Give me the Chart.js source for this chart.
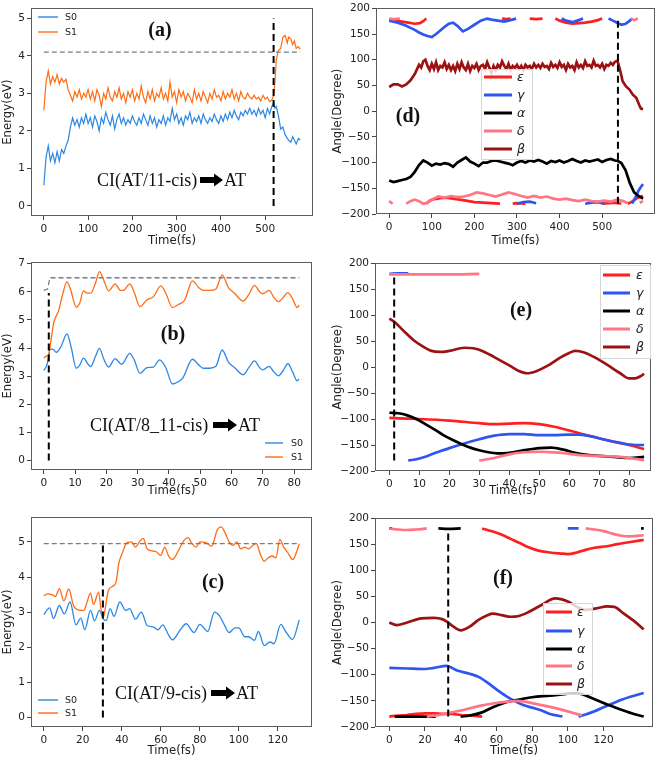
<!DOCTYPE html>
<html><head><meta charset="utf-8">
<script src="https://cdn.jsdelivr.net/npm/chart.js@4/dist/chart.umd.min.js"></script>
<style>
body{margin:0;background:#fff;width:660px;height:761px;position:relative;overflow:hidden}
canvas{position:absolute}
</style></head><body>
<canvas id="ca"></canvas><canvas id="cb"></canvas><canvas id="cc"></canvas>
<canvas id="cd"></canvas><canvas id="ce"></canvas><canvas id="cf"></canvas>
<script>
// ---------------- DATA ----------------
// Panel (a): energies
const a_time = [0,5,10,15,20,25,30,35,40,45,50,55,60,65,70,75,80,85,90,95,100,105,110,115,120,125,130,135,140,145,150,155,160,165,170,175,180,185,190,195,200,205,210,215,220,225,230,235,240,245,250,255,260,265,270,275,280,285,290,295,300,305,310,315,320,325,330,335,340,345,350,355,360,365,370,375,380,385,390,395,400,405,410,415,420,425,430,435,440,445,450,455,460,465,470,475,480,485,490,495,500,505,510,515,519,522,525,530,535,540,545,550,553,558,562,566,570,575,579];
const a_s0 = [0.55,1.3,1.6,1.2,1.4,1.15,1.45,1.2,1.5,1.4,1.6,1.75,2.1,2.35,2.15,2.3,2.1,2.35,2.2,2.45,2.2,2.35,2.1,2.4,2.25,2.0,2.35,2.2,2.5,2.3,2.15,2.4,2.05,2.3,2.45,2.2,2.35,2.15,2.3,2.2,2.4,2.25,2.15,2.35,2.2,2.45,2.3,2.15,2.4,2.2,2.35,2.1,2.3,2.2,2.4,2.15,2.35,2.25,2.6,2.3,2.45,2.2,2.35,2.15,2.4,2.3,2.5,2.2,2.35,2.25,2.4,2.2,2.45,2.3,2.2,2.35,2.25,2.45,2.3,2.2,2.4,2.25,2.45,2.3,2.5,2.35,2.55,2.4,2.3,2.5,2.4,2.55,2.45,2.6,2.45,2.55,2.4,2.6,2.45,2.55,2.35,2.6,2.45,2.65,2.75,2.6,2.65,2.4,2.05,2.1,1.9,1.8,1.75,1.7,1.85,1.75,1.65,1.8,1.75];
const a_s1 = [2.55,3.3,3.6,3.25,3.45,3.3,3.5,3.25,3.4,3.3,3.38,3.1,2.95,2.8,3.05,2.9,3.1,2.85,3.0,2.9,3.1,2.85,3.05,2.8,3.1,2.95,2.65,3.0,2.85,3.15,2.9,2.8,3.05,2.9,3.15,2.85,3.0,2.75,3.05,2.9,3.1,2.8,3.0,2.85,3.2,2.9,2.75,3.05,2.85,3.1,2.8,3.0,2.9,3.15,2.85,3.0,2.8,3.3,2.9,3.05,2.75,3.1,2.9,3.05,2.8,3.0,2.9,2.75,3.1,2.85,3.0,2.8,3.05,2.9,2.75,3.0,2.85,3.1,2.9,2.95,2.8,3.05,2.85,3.0,2.9,3.1,2.85,3.0,2.8,3.05,2.9,2.85,3.0,2.9,2.85,2.95,2.85,2.9,2.8,2.95,2.85,2.9,2.78,2.82,2.95,3.3,3.9,4.15,4.2,4.5,4.55,4.35,4.5,4.45,4.3,4.4,4.2,4.25,4.18];
const a_ref = [[0,4.1],[579,4.1]];
const a_hop = [[519,0],[519,5]];

// Panel (b)
const b_s0 = [[0,3.2],[1,3.4],[2.1,3.96],[3,3.95],[4,3.85],[5.5,4.05],[7.4,4.5],[8.8,4.0],[10.4,3.28],[11.5,3.4],[12.7,3.64],[14,3.45],[15,3.34],[16.5,3.7],[17.8,3.99],[19.2,3.6],[20.7,3.32],[22.8,3.62],[24.9,3.42],[27.5,3.81],[29,3.55],[30.7,3.1],[33,3.3],[35,3.32],[37,3.58],[39,3.3],[41.1,2.72],[43,2.8],[44.5,2.95],[47.5,3.6],[49.5,3.4],[51,3.28],[53,3.28],[55,3.35],[57,3.93],[59,3.5],[61,3.3],[63.7,3.05],[65.5,3.3],[67.3,3.54],[69,3.3],[70,3.22],[72,3.35],[73.5,3.15],[75,3.01],[76.5,3.2],[78,3.44],[79.5,3.15],[81,2.83],[81.6,2.9]];
const b_s1 = [[0,3.64],[1,3.72],[1.6,3.78],[2.2,4.2],[3.2,4.9],[4.8,5.35],[6,5.9],[7.4,6.35],[8.5,6.1],[10.4,5.45],[11.5,5.6],[12.7,6.03],[13.8,5.95],[15,5.95],[16.5,6.3],[17.8,6.72],[19.2,6.4],[20.7,6.03],[22.8,6.28],[24.5,6.05],[25.4,6.05],[27.5,6.28],[29,5.95],[30.7,5.47],[33,5.72],[35,5.82],[37.4,6.21],[39,5.95],[41.1,5.44],[43,5.55],[45,5.7],[47.5,6.39],[49.5,6.15],[51,6.05],[53,6.05],[55,6.1],[57,6.6],[59,6.15],[61,5.94],[63.7,5.67],[65.5,5.9],[67.3,6.23],[69,6.0],[70,5.93],[72,6.05],[73.5,5.8],[75,5.65],[76.5,5.8],[78,5.97],[79.5,5.75],[81,5.44],[81.6,5.52]];
const b_ref = [[0,6.05],[1.2,6.1],[2,6.5],[81.6,6.5]];
const b_hop = [[1.6,0],[1.6,5.96]];

// Panel (c)
const c_s0 = [[0,2.93],[3,3.12],[5,2.82],[8,3.19],[10.5,2.95],[13.5,3.29],[16.5,2.64],[19,2.83],[21,2.5],[24,3.05],[26,2.75],[28.5,3.05],[30.5,2.8],[32,2.76],[34,3.1],[36,2.88],[39,3.29],[42,3.05],[44,3.1],[47,2.8],[50,3.0],[53,2.62],[56,2.58],[58.5,2.5],[61,2.64],[63.5,2.4],[66,2.21],[70,2.5],[73,2.67],[77,2.42],[80,2.65],[84,2.45],[87.5,3.0],[90,2.9],[92,2.7],[95,2.42],[98,2.55],[100,2.55],[103,2.3],[105,2.3],[108,2.2],[110,2.45],[113,2.05],[116,2.15],[118,2.1],[121.5,2.65],[124,2.45],[127.5,2.22],[131,2.78]];
const c_s1 = [[0,3.47],[2,3.52],[4,3.5],[6,3.45],[8,3.67],[10.3,3.32],[12.8,3.66],[15.3,3.18],[17.9,3.06],[20.5,3.05],[22,3.25],[23.9,3.55],[25.5,3.22],[28.1,3.57],[29.3,3.1],[30.5,2.85],[31.5,3.1],[33,3.6],[35.4,3.74],[37,3.85],[38.5,4.4],[40.5,4.72],[42.6,4.98],[45,5.0],[47,4.85],[49,5.0],[51,5.1],[53,4.8],[55,4.75],[57.6,4.72],[60,4.62],[62,4.85],[64,4.6],[66,4.5],[69,4.75],[72,5.05],[74,5.12],[76,4.95],[78,4.85],[80,5.0],[83,4.98],[86,4.88],[89,5.35],[91,5.43],[93,5.25],[95,5.0],[97,4.9],[99,5.0],[101,4.8],[103,4.85],[105,4.8],[107,4.9],[109,4.95],[111,4.65],[113,4.45],[115,4.55],[117,4.6],[119,4.55],[121,5.07],[123,4.85],[125,4.7],[127.7,4.5],[129.5,4.7],[131,4.95]];
const c_ref = [[0,4.95],[131,4.95]];
const c_hop = [[30.3,0],[30.3,4.95]];

// Panel (d): angles
const d_eps = [[0,177],[15,176],[30,174],[45,172],[60,170],[72,171],[80,175],[87,180],[87,null],[87,-180],[95,-174],[105,-171],[120,-169],[135,-168],[150,-170],[165,-172],[180,-174],[200,-177],[220,-178],[240,-179],[260,-180],[260,null],[265,180],[275,179],[285,180],[285,null],[290,-180],[300,-179],[320,-180],[320,null],[330,180],[345,179],[360,180],[360,null],[390,180],[400,176],[415,172],[430,170],[445,171],[460,172],[475,174],[490,177],[500,180],[500,null],[500,-180],[515,-179],[530,-178],[545,-180],[545,null],[560,-180],[570,-176],[580,-170],[590,-166],[596,-165]];
const d_gam = [[0,176],[10,174],[20,172],[30,169],[40,166],[50,162],[60,158],[70,153],[80,149],[90,146],[100,144],[110,150],[120,157],[130,164],[140,170],[150,172],[160,166],[173,155],[185,160],[200,168],[215,176],[230,180],[240,178],[255,176],[270,174],[285,177],[298,180],[298,null],[300,-180],[315,-177],[330,-176],[345,-179],[345,null],[405,180],[415,176],[430,173],[445,177],[455,180],[455,null],[460,-180],[475,-178],[490,-177],[505,-180],[505,null],[515,180],[525,176],[535,172],[545,168],[555,170],[565,176],[570,180],[570,null],[570,-180],[578,-168],[585,-155],[592,-146],[596,-142]];
const d_alp = [[0,-135],[10,-138],[20,-136],[30,-134],[40,-132],[50,-128],[60,-118],[70,-105],[80,-96],[90,-100],[100,-106],[110,-102],[120,-104],[130,-101],[140,-103],[150,-108],[160,-100],[170,-95],[180,-90],[190,-98],[200,-102],[210,-107],[220,-100],[230,-100],[240,-97],[250,-96],[260,-98],[270,-100],[280,-102],[290,-105],[300,-100],[310,-97],[320,-100],[330,-96],[340,-98],[350,-95],[360,-98],[370,-102],[380,-97],[390,-99],[400,-96],[410,-100],[420,-97],[430,-93],[440,-97],[450,-100],[460,-96],[470,-98],[480,-96],[490,-94],[500,-99],[510,-95],[520,-93],[530,-96],[537,-97],[545,-101],[555,-115],[565,-140],[575,-158],[585,-165],[596,-170]];
const d_del = [[0,180],[10,179],[25,180],[25,null],[0,-175],[8,-180],[8,null],[40,-180],[50,-175],[60,-172],[70,-175],[80,-180],[90,-178],[100,-172],[115,-166],[130,-168],[145,-165],[160,-167],[175,-166],[190,-163],[205,-158],[220,-160],[235,-163],[250,-166],[265,-162],[280,-158],[295,-161],[310,-165],[325,-168],[340,-165],[355,-168],[370,-166],[385,-170],[400,-172],[415,-170],[430,-173],[445,-175],[460,-172],[475,-175],[490,-176],[505,-174],[520,-176],[535,-172],[550,-175],[560,-179],[560,null],[568,180],[575,177],[584,180],[584,null],[588,-178],[596,-175]];
const d_bet = [[0,47],[10,52],[20,52],[30,48],[40,52],[50,60],[60,72],[70,90],[75,85],[80,97],[85,100],[90,88],[95,80],[100,92],[105,82],[110,95],[115,80],[120,88],[125,85],[130,95],[135,82],[140,90],[145,80],[150,88],[155,78],[160,92],[165,82],[170,95],[175,85],[180,80],[185,92],[190,78],[195,88],[200,84],[205,92],[210,80],[215,88],[220,90],[225,82],[230,95],[235,85],[240,75],[245,88],[250,80],[255,90],[260,85],[265,97],[270,88],[275,82],[280,92],[285,80],[290,88],[295,84],[300,90],[305,82],[310,88],[315,80],[320,90],[325,85],[330,88],[335,82],[340,92],[345,85],[350,90],[355,84],[360,92],[365,86],[370,88],[375,82],[380,94],[385,86],[390,90],[395,84],[400,95],[405,86],[410,90],[415,80],[420,92],[425,85],[430,88],[435,80],[440,95],[445,85],[450,90],[455,84],[460,97],[465,88],[470,90],[475,85],[480,98],[485,88],[490,90],[495,85],[500,92],[505,82],[510,90],[515,88],[520,94],[525,90],[530,96],[536,98],[542,80],[548,58],[556,48],[564,42],[572,32],[580,26],[587,12],[591,5],[596,4]];
const d_hop = [[537,-180],[537,176]];

// Panel (e)
const e_eps = [[0,-98],[10,-100],[20,-103],[30,-108],[35,-110],[40,-109],[45,-108],[50,-110],[55,-115],[60,-122],[65,-130],[70,-137],[75,-144],[80,-150],[85,-158]];
const e_gam = [[0,179],[3,180],[6.3,180],[6.3,null],[6.3,-180],[10,-176],[15,-166],[20,-156],[25,-147],[30,-139],[35,-132],[40,-129],[45,-129],[50,-131],[55,-131],[60,-130],[63,-130],[67,-133],[72,-140],[77,-146],[82,-150],[85,-150]];
const e_alp = [[0,-88],[3,-89],[6,-93],[9,-100],[12,-110],[15,-120],[18,-131],[21,-140],[24,-148],[27,-155],[30,-160],[33,-164],[36,-166],[40,-165],[45,-160],[50,-156],[54,-155],[58,-159],[62,-165],[66,-169],[70,-171],[75,-173],[80,-175],[85,-173]];
const e_del = [[0,178],[10,178],[20,178],[30,179],[30,null],[30,-180],[35,-175],[40,-168],[45,-164],[50,-163],[55,-164],[60,-167],[65,-170],[70,-171],[75,-172],[80,-175],[85,-179]];
const e_bet = [[0,93],[2,85],[5,68],[8,52],[11,40],[14,31],[17,29],[20,31],[25,37],[28,36],[31,31],[35,19],[40,3],[43,-7],[46,-12],[49,-8],[53,3],[57,18],[60,27],[62,31],[65,28],[69,17],[73,3],[77,-12],[80,-22],[82,-22],[84,-17],[85,-13]];
const e_hop = [[1.6,-180],[1.6,180]];

// Panel (f)
const f_eps = [[0,-180],[5,-178],[10,-177],[15,-175],[20,-174],[25,-174],[30,-175],[35,-175],[40,-177],[45,-178],[52,-180],[52,null],[52,180],[58,174],[63,168],[68,160],[73,152],[78,144],[83,138],[90,134],[96,132],[100,131],[105,134],[110,139],[115,143],[122,146],[128,150],[135,154],[142.5,158]];
const f_gam = [[0,-87],[10,-88],[20,-89],[25,-87],[32,-83],[38,-92],[45,-98],[50,-104],[55,-115],[60,-128],[65,-140],[70,-150],[75,-158],[80,-163],[85,-168],[90,-175],[97,-180],[97,null],[100,180],[106,180],[106,null],[106,-180],[110,-176],[115,-170],[120,-162],[125,-155],[130,-148],[135,-142],[142.5,-135]];
const f_alp = [[0,180],[1.5,180],[1.5,null],[3,-180],[15,-180],[26,-180],[26,null],[27.5,180],[33,179],[40,180],[40,null],[40,-180],[45,-178],[52,-172],[58,-162],[65,-153],[72,-148],[80,-143],[90,-140],[98,-137],[104,-135],[108,-137],[115,-147],[122,-157],[130,-167],[137,-175],[142.5,-180],[142.5,null],[141,180],[142.5,180]];
const f_del = [[0,180],[5,178],[10,177],[15,178],[21,180],[21,null],[21,-180],[28,-177],[35,-172],[42,-167],[50,-160],[58,-155],[65,-152],[72,-150],[78,-153],[85,-158],[92,-163],[100,-170],[108,-178],[108,null],[110,180],[115,178],[120,175],[125,170],[130,166],[135,165],[142.5,167]];
const f_bet = [[0,0],[4,-5],[10,0],[18,8],[25,9],[30,6],[32,2],[36,-8],[40,-15],[45,-8],[50,5],[55,14],[58,17],[63,14],[68,11],[72,12],[78,20],[85,33],[93,46],[100,40],[105,30],[110,24],[116,27],[122,31],[126,30],[131,18],[137,3],[142.5,-13]];
const f_hop = [[33,-180],[33,180]];

// tick labels
const ticksA_x = [0,100,200,300,400,500];
const ticksB_x = [0,10,20,30,40,50,60,70,80];
const ticksC_x = [0,20,40,60,80,100,120];
const ticksE_y = [0,1,2,3,4,5];
const ticksB_y = [0,1,2,3,4,5,6,7];
const ticksAng_y = [-200,-150,-100,-50,0,50,100,150,200];

// ---------------- HELPERS ----------------
const FONT = 'DejaVu Sans';
const COL = {s0:'#2b88e3', s1:'#ff6c12', eps:'#ff1f1f', gam:'#2f55f0', alp:'#000000', del:'#ff7585', bet:'#9c1212', ref:'#6f7f88'};
const fmt = v => v < 0 ? '\u2212' + Math.abs(v) : String(v);
const pts = arr => arr.map(p => ({x:p[0], y:p[1]}));
const zipT = (t, v) => t.map((x,i) => ({x:x, y:v[i]}));

function lineDs(label, data, color, w, opts){
  return Object.assign({label, data, borderColor:color, backgroundColor:color, borderWidth:w, pointRadius:0, fill:false, tension:0, spanGaps:false}, opts||{});
}
function refDs(data){ return lineDs('', pts(data), COL.ref, 1.3, {borderDash:[5,3], order:0}); }
function hopDs(data){ return lineDs('', pts(data), '#000', 2, {borderDash:[7,4], order:0}); }

const framePlugin = {id:'frame', afterDatasetsDraw(chart){
  const {ctx, chartArea:a} = chart;
  ctx.save(); ctx.strokeStyle='#5c5c5c'; ctx.lineWidth=1; ctx.setLineDash([]);
  ctx.strokeRect(Math.round(a.left)+0.5, Math.round(a.top)+0.5, Math.round(a.right-a.left)-1, Math.round(a.bottom-a.top)-1);
  ctx.restore();
}};

function drawArrow(ctx, x, y, w){
  const hl = 9, sh = 3, hh = 6.5;
  ctx.beginPath();
  ctx.moveTo(x, y-sh); ctx.lineTo(x+w-hl, y-sh); ctx.lineTo(x+w-hl, y-hh);
  ctx.lineTo(x+w, y); ctx.lineTo(x+w-hl, y+hh); ctx.lineTo(x+w-hl, y+sh); ctx.lineTo(x, y+sh);
  ctx.closePath(); ctx.fillStyle='#000'; ctx.fill();
}

const extraPlugin = {id:'extra', afterDraw(chart, args, o){
  const ctx = chart.ctx, ox = o.ox, oy = o.oy;
  ctx.save(); ctx.setLineDash([]);
  const L = o.lg;
  if (L) {
    if (L.box) {
      const b = L.box;
      ctx.fillStyle='rgba(255,255,255,0.8)'; ctx.fillRect(b[0]-ox, b[1]-oy, b[2], b[3]);
      ctx.strokeStyle='#d6d6d6'; ctx.lineWidth=1; ctx.strokeRect(b[0]-ox+0.5, b[1]-oy+0.5, b[2], b[3]);
    }
    const ds = chart.data.datasets.filter(d => d.lg);
    ds.forEach((d,i) => {
      const y = L.rows[i]-oy;
      ctx.strokeStyle = d.borderColor; ctx.lineWidth = L.lw; ctx.lineCap='butt';
      ctx.beginPath(); ctx.moveTo(L.x1-ox, y); ctx.lineTo(L.x2-ox, y); ctx.stroke();
      ctx.fillStyle='#222'; ctx.font=L.font; ctx.textAlign='left'; ctx.textBaseline='middle';
      ctx.fillText(d.label, L.tx-ox, y+0.5);
    });
  }
  if (o.tag) {
    ctx.fillStyle='#111'; ctx.font='bold 20px "Liberation Serif"'; ctx.textAlign='center'; ctx.textBaseline='middle';
    ctx.fillText(o.tag[0], o.tag[1]-ox, o.tag[2]-oy);
  }
  if (o.ci) {
    const c = o.ci;
    ctx.fillStyle='#111'; ctx.font='18px "Liberation Serif"'; ctx.textAlign='left'; ctx.textBaseline='alphabetic';
    ctx.fillText(c.t1, c.x1-ox, c.base-oy);
    drawArrow(ctx, c.ax-ox, c.base-6-oy, c.aw);
    ctx.fillStyle='#111';
    ctx.fillText('AT', c.x2-ox, c.base-oy);
  }
  ctx.restore();
}};

function build(id, P){
  const cv = document.getElementById(id);
  const [bx,by,bw,bh] = P.box; const [Lx,Rx,Ty,By] = P.area;
  cv.width = bw; cv.height = bh;
  cv.style.left = bx+'px'; cv.style.top = by+'px'; cv.style.width = bw+'px'; cv.style.height = bh+'px';
  const tickFont = {family:FONT, size:10.5};
  const titleFont = {family:FONT, size:11.7};
  new Chart(cv, {
    type:'line',
    data:{datasets:P.datasets},
    options:{
      responsive:false, animation:false, devicePixelRatio:1,
      layout:{padding:{left:0, top:Ty-by, right:bx+bw-Rx, bottom:0}},
      plugins:{legend:{display:false}, tooltip:{enabled:false},
        extra:{ox:bx, oy:by, lg:P.lg, tag:P.tag, ci:P.ci}},
      scales:{
        x:{type:'linear', min:P.xr[0], max:P.xr[1],
          afterFit:(s)=>{ s.height = by+bh-By; },
          afterBuildTicks:(s)=>{ s.ticks = P.xt.map(v=>({value:v})); },
          ticks:{callback:(v)=>fmt(v), font:tickFont, color:'#222', padding:3, maxRotation:0, autoSkip:false},
          grid:{drawOnChartArea:false, drawTicks:true, tickLength:4, color:'#444'},
          border:{display:false},
          title:{display:true, text:'Time(fs)', font:titleFont, color:'#222', padding:{top:0, bottom:P.xtpad}}
        },
        y:{type:'linear', min:P.yr[0], max:P.yr[1],
          afterFit:(s)=>{ s.width = Lx-bx; },
          afterBuildTicks:(s)=>{ s.ticks = P.yt.map(v=>({value:v})); },
          ticks:{callback:(v)=>fmt(v), font:tickFont, color:'#222', padding:2, autoSkip:false},
          grid:{drawOnChartArea:false, drawTicks:true, tickLength:4, color:'#444'},
          border:{display:false},
          title:{display:true, text:P.ytitle, font:titleFont, color:'#222', padding:{top:1, bottom:0}}
        }
      }
    },
    plugins:[framePlugin, extraPlugin]
  });
}

const eW = 1.3, gW = 2.7;
function energySets(s0, s1, ref, hop, w){
  return [hopDs(hop), refDs(ref),
    lineDs('S0', s0, COL.s0, w, {lg:true, order:2}),
    lineDs('S1', s1, COL.s1, w, {lg:true, order:1})];
}
function angleSets(eps, gam, alp, del, bet, hop, smooth){
  const o = smooth ? {tension:0.4, cubicInterpolationMode:'monotone'} : {};
  return [hopDs(hop),
    lineDs('\u03b5', pts(eps), COL.eps, gW, Object.assign({lg:true, order:5}, o)),
    lineDs('\u03b3', pts(gam), COL.gam, gW, Object.assign({lg:true, order:4}, o)),
    lineDs('\u03b1', pts(alp), COL.alp, gW, Object.assign({lg:true, order:3}, o)),
    lineDs('\u03b4', pts(del), COL.del, gW, Object.assign({lg:true, order:2}, o)),
    lineDs('\u03b2', pts(bet), COL.bet, gW, Object.assign({lg:true, order:1}, o))];
}
const smoothE = {tension:0.4, cubicInterpolationMode:'monotone'};

build('ca', {box:[0,0,330,250], area:[31,313,5,216], xr:[-29,608], yr:[-0.27,5.27], xt:ticksA_x, yt:ticksE_y, ytitle:'Energy(eV)', xtpad:2,
  datasets:energySets(zipT(a_time,a_s0), zipT(a_time,a_s1), a_ref, a_hop, 1.2),
  lg:{x1:38, x2:58, tx:65, rows:[17,32], lw:1.4, font:'9.5px "DejaVu Sans"'},
  tag:['(a)',160,31], ci:{t1:'CI(AT/11-cis)', x1:97, ax:200, aw:23, x2:224, base:186}});
(function(){
  const ds = energySets(pts(b_s0), pts(b_s1), b_ref, b_hop, eW);
  ds[2] = Object.assign(ds[2], smoothE); ds[3] = Object.assign(ds[3], smoothE);
  build('cb', {box:[0,250,330,250], area:[31,312,262,470], xr:[-4.08,85.7], yr:[-0.34,7.06], xt:ticksB_x, yt:ticksB_y, ytitle:'Energy(eV)', xtpad:2,
    datasets:ds,
    lg:{x1:265, x2:283, tx:291, rows:[443,457], lw:1.4, font:'9.5px "DejaVu Sans"'},
    tag:['(b)',173,335], ci:{t1:'CI(AT/8_11-cis)', x1:90, ax:213, aw:24, x2:238, base:431}});
})();
(function(){
  const ds = energySets(pts(c_s0), pts(c_s1), c_ref, c_hop, eW);
  ds[2] = Object.assign(ds[2], smoothE); ds[3] = Object.assign(ds[3], smoothE);
  build('cc', {box:[0,500,330,261], area:[31,312,517,727], xr:[-6.55,137.5], yr:[-0.27,5.71], xt:ticksC_x, yt:ticksE_y, ytitle:'Energy(eV)', xtpad:3,
    datasets:ds,
    lg:{x1:38, x2:58, tx:65, rows:[700,713], lw:1.4, font:'9.5px "DejaVu Sans"'},
    tag:['(c)',213,583], ci:{t1:'CI(AT/9-cis)', x1:115, ax:211, aw:24, x2:236, base:699}});
})();
build('cd', {box:[330,0,330,250], area:[376,655,6,214], xr:[-31,624], yr:[-200,200], xt:ticksA_x, yt:ticksAng_y, ytitle:'Angle(Degree)', xtpad:2,
  datasets:angleSets(d_eps,d_gam,d_alp,d_del,d_bet,d_hop,false),
  lg:{box:[481,69,51,90], x1:484, x2:512, tx:517, rows:[77,95,113,131,149], lw:3, font:'italic 12.5px "DejaVu Sans"'},
  tag:['(d)',408,117]});
build('ce', {box:[330,250,330,250], area:[375,651,263,471], xr:[-4.8,87.3], yr:[-200,200], xt:ticksB_x, yt:ticksAng_y, ytitle:'Angle(Degree)', xtpad:2,
  datasets:angleSets(e_eps,e_gam,e_alp,e_del,e_bet,e_hop,true),
  lg:{box:[600,265,50,93], x1:603, x2:630, tx:636, rows:[275,293,311,329,347], lw:3, font:'italic 12.5px "DejaVu Sans"'},
  tag:['(e)',521,311]});
build('cf', {box:[330,500,330,261], area:[375,653,518,727], xr:[-8,147.7], yr:[-200,200], xt:ticksC_x, yt:ticksAng_y, ytitle:'Angle(Degree)', xtpad:3,
  datasets:angleSets(f_eps,f_gam,f_alp,f_del,f_bet,f_hop,true),
  lg:{box:[543,603,49,91], x1:546, x2:572, tx:577, rows:[612,631,649,666,684], lw:3, font:'italic 12.5px "DejaVu Sans"'},
  tag:['(f)',503,579]});
</script>
</body></html>
